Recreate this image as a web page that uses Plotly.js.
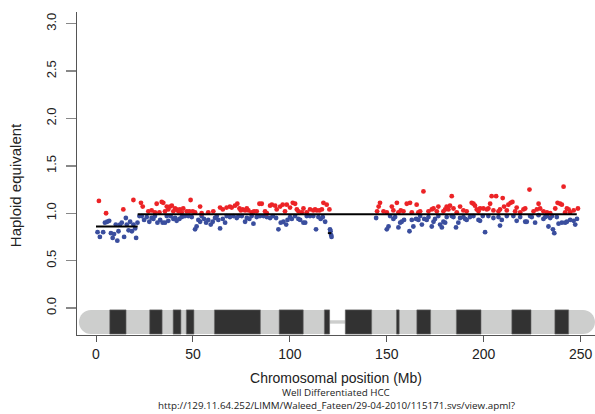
<!DOCTYPE html>
<html>
<head>
<meta charset="utf-8">
<script src="https://cdn.plot.ly/plotly-3.0.1.min.js"></script>
<style>html,body{margin:0;padding:0;background:#fff;}#chart{width:595px;height:414px;}</style>
</head>
<body>
<div id="chart"></div>
<script>
// Gained probes (red): position in Mb, haploid equivalent
var gainPos = [1.5,5.2,14.1,19.3,23.2,24.1,27,28.7,30.4,31.3,32.7,33.9,34.7,35.6,36.5,37.3,38.2,39.1,39.9,40.8,41.6,42.5,43.3,44.2,45,46.8,48.1,48.8,49.9,51.1,53.7,54.5,57.9,60.5,64,65.4,67.4,69.1,70,71.7,72.9,74,74.7,75.7,76.9,77.8,78.6,80.3,81.5,82.9,84.3,85.5,87.2,88.1,89.8,90.7,92.4,93.2,95,96.3,97.5,98.4,100.1,101.5,102.7,103.6,104.4,106.1,107,108.7,110.4,112.1,113,113.9,115.3,116.5,117.3,119,120.4,
145.0,145.8,146.5,148.3,150.0,152.6,153.4,155.2,156.0,157.2,158.6,160.3,162.0,162.9,165.4,166.3,167.2,168.9,171.5,173.2,174.1,175.8,176.6,179.2,180.1,180.9,181.8,182.6,183.5,184.4,186.1,187.8,189.5,191.2,193.8,194.7,195.5,196.4,197.3,198.1,199.8,201.6,202.4,203.3,204.1,205.0,206.4,207.6,208.4,209.8,210.5,211.9,212.7,213.9,214.8,216.2,217.0,218.8,220.5,221.4,223.6,225.7,227.4,228.3,229.1,230.8,232.6,234.3,236.9,238.1,239.4,240.3,241.2,242.0,242.9,243.8,244.6,246.4,248.6];
var gainVal = [1.13,1.00,1.04,1.14,1.11,1.07,1.02,1.03,1.01,1.10,1.01,1.12,1.11,1.02,1.07,1.04,1.07,1.08,1.02,1.05,1.04,1.02,1.04,1.01,1.05,1.02,1.02,1.14,1.02,1.01,1.07,1.00,1.01,1.02,1.06,1.04,1.06,1.07,1.06,1.08,1.10,1.05,1.03,1.04,1.03,1.05,1.03,1.01,1.02,1.02,1.10,1.10,1.02,1.00,1.08,1.09,1.08,1.04,1.07,1.09,1.02,1.09,1.06,1.11,1.10,1.04,1.02,1.01,1.05,1.01,1.04,1.03,1.04,1.03,1.03,1.04,1.11,1.09,1.04,
1.02,1.07,1.11,1.02,1.01,1.07,1.03,1.11,1.01,1.03,1.02,1.10,1.11,1.01,1.09,1.01,1.02,1.23,1.02,1.04,1.05,1.02,1.07,1.02,1.04,1.07,1.04,1.08,1.18,1.05,1.01,1.07,1.03,1.02,1.11,1.10,1.08,1.04,1.02,1.05,1.05,1.04,1.05,1.10,1.18,1.03,1.18,1.02,1.04,1.16,1.07,1.03,1.09,1.11,1.12,1.02,1.06,1.01,1.04,1.05,1.25,1.02,1.04,1.10,1.05,1.02,1.01,1.00,1.05,1.11,1.10,1.09,1.28,1.01,1.05,1.04,1.01,1.03,1.05];

// Lost probes (blue)
var lossPos = [0.8,2,3.7,4.6,5.8,6.8,7.7,8.6,9.3,10.2,11,11.6,12.4,13.3,14.5,15.4,15.9,16.8,17.6,18.5,19.3,20.2,20.7,21.4,
22.4,23.6,24.8,26.2,27.5,28.7,29.6,30.4,31.7,33.1,34.4,35.6,36.5,37.3,38.5,39.9,40.8,41.6,43.0,44.2,45.0,45.9,47.6,49.4,51.1,51.9,52.8,53.7,54.5,55.7,56.8,57.9,59.2,60.2,61.4,62.3,63.1,64.0,65.4,66.6,67.4,69.1,70.9,72.6,73.5,75.2,76.9,77.8,79.1,80.3,81.2,82.9,84.6,86.4,88.1,89.8,91.2,92.9,94.1,95.3,96.7,98.1,98.8,100.1,101.0,102.7,104.4,105.3,107.0,107.9,108.7,110.4,112.1,113.5,114.7,115.9,117.0,118.2,120.7,121.0,121.3,121.5,
144.5,150.0,150.9,151.7,153.4,154.3,156.0,156.9,157.7,158.9,161.7,162.9,163.7,165.1,166.3,167.2,168.1,169.3,170.6,171.5,173.2,174.1,174.9,176.6,177.5,178.4,179.2,180.1,180.9,183.5,184.4,185.7,186.9,187.8,189.5,190.4,191.2,192.9,194.7,197.3,198.1,199.5,200.7,202.4,205.0,207.6,208.4,209.3,211.9,215.3,217.0,218.8,221.4,222.2,223.9,224.8,226.5,228.3,230.8,231.7,232.6,233.4,234.3,235.2,235.7,236.4,237.7,238.6,240.3,242.0,242.9,244.6,246.4,247.2,248.1];
var lossVal = [0.80,0.75,0.80,0.90,0.91,0.92,0.79,0.74,0.78,0.88,0.71,0.81,0.88,0.90,0.75,0.95,0.88,0.82,0.91,0.81,0.88,0.84,0.74,0.90,
0.97,0.97,0.93,0.96,0.91,0.95,0.94,0.97,0.90,0.93,0.90,0.90,0.97,0.92,0.97,0.94,0.95,0.92,0.94,0.96,0.97,0.97,0.97,0.96,0.83,0.86,0.93,0.91,0.97,0.94,0.90,0.93,0.88,0.91,0.95,0.97,0.93,0.84,0.94,0.90,0.97,0.96,0.97,0.95,0.97,0.97,0.91,0.95,0.94,0.97,0.89,0.96,0.97,0.97,0.96,0.95,0.97,0.95,0.83,0.90,0.91,0.88,0.93,0.96,0.94,0.97,0.94,0.93,0.90,0.90,0.97,0.97,0.97,0.83,0.96,0.94,0.96,0.91,0.83,0.81,0.77,0.75,
0.95,0.83,0.86,0.97,0.94,0.96,0.85,0.90,0.91,0.93,0.81,0.93,0.86,0.94,0.93,0.97,0.88,0.94,0.93,0.96,0.86,0.91,0.94,0.97,0.88,0.85,0.91,0.90,0.96,0.97,0.96,0.85,0.90,0.95,0.96,0.94,0.93,0.96,0.97,0.93,0.92,0.97,0.80,0.97,0.95,0.96,0.87,0.93,0.97,0.97,0.92,0.96,0.91,0.91,0.97,0.96,0.90,0.98,0.94,0.96,0.97,0.86,0.95,0.97,0.83,0.79,0.96,0.89,0.90,0.90,0.91,0.93,0.92,0.88,0.94];

// Segmentation (black lines)
var segStart = [0, 21.5, 119.6];
var segEnd   = [21.5, 248, 121.4];
var segVal   = [0.86, 0.99, 0.79];

// Ideogram of the chromosome (Mb)
var chromStart = -8.8, chromEnd = 257.4;
var cenStart = 120.5, cenEnd = 128.6;
var bandStart = [7.1, 27.7, 39.8, 46.6, 61.1, 94.5, 117.8, 128.6, 155.0, 165.5, 185.9, 214.5, 236.7];
var bandEnd   = [15.5, 34.1, 43.8, 50.5, 84.8, 106.9, 120.5, 142.2, 156.4, 172.6, 198.6, 224.4, 243.8];

var xTicks = [0, 50, 100, 150, 200, 250];
var yTicks = [0.0, 0.5, 1.0, 1.5, 2.0, 2.5, 3.0];

var traces = [];
traces.push({x: lossPos, y: lossVal, type: 'scatter', mode: 'markers',
  marker: {color: '#3a4e9e', size: 4.8}, hoverinfo: 'x+y', showlegend: false});
traces.push({x: gainPos, y: gainVal, type: 'scatter', mode: 'markers',
  marker: {color: '#ec2326', size: 4.8}, hoverinfo: 'x+y', showlegend: false});
for (var i = 0; i < segStart.length; i++) {
  traces.push({x: [segStart[i], segEnd[i]], y: [segVal[i], segVal[i]], type: 'scatter', mode: 'lines',
    line: {color: '#000000', width: 2}, hoverinfo: 'skip', showlegend: false});
}

// ideogram shapes
var yt = -0.02, yb = -0.275, ym = (yt + yb) / 2, ry = (yt - yb) / 2;
var rx = 6.2, k = 0.5523;
function f(v){ return v.toFixed(4); }
var pArm = 'M ' + f(chromStart + rx) + ',' + f(yt) +
  ' C ' + f(chromStart + rx - k*rx) + ',' + f(yt) + ' ' + f(chromStart) + ',' + f(ym + k*ry) + ' ' + f(chromStart) + ',' + f(ym) +
  ' C ' + f(chromStart) + ',' + f(ym - k*ry) + ' ' + f(chromStart + rx - k*rx) + ',' + f(yb) + ' ' + f(chromStart + rx) + ',' + f(yb) +
  ' L ' + f(cenStart) + ',' + f(yb) + ' L ' + f(cenStart) + ',' + f(yt) + ' Z';
var qArm = 'M ' + f(cenEnd) + ',' + f(yt) + ' L ' + f(chromEnd - rx) + ',' + f(yt) +
  ' C ' + f(chromEnd - rx + k*rx) + ',' + f(yt) + ' ' + f(chromEnd) + ',' + f(ym + k*ry) + ' ' + f(chromEnd) + ',' + f(ym) +
  ' C ' + f(chromEnd) + ',' + f(ym - k*ry) + ' ' + f(chromEnd - rx + k*rx) + ',' + f(yb) + ' ' + f(chromEnd - rx) + ',' + f(yb) +
  ' L ' + f(cenEnd) + ',' + f(yb) + ' Z';
var shapes = [
  {type: 'path', xref: 'x', yref: 'y', path: pArm, fillcolor: '#cdcecd', line: {width: 0}, layer: 'below'},
  {type: 'path', xref: 'x', yref: 'y', path: qArm, fillcolor: '#cdcecd', line: {width: 0}, layer: 'below'},
  {type: 'rect', xref: 'x', yref: 'y', x0: cenStart, x1: cenEnd, y0: ym - 0.018, y1: ym + 0.018,
    fillcolor: '#cdcecd', line: {width: 0}, layer: 'below'}
];
for (var j = 0; j < bandStart.length; j++) {
  shapes.push({type: 'rect', xref: 'x', yref: 'y', x0: bandStart[j], x1: bandEnd[j], y0: yb, y1: yt,
    fillcolor: '#323232', line: {color: '#6a6a6a', width: 0.6}, layer: 'below'});
}

var sans = '"Liberation Sans", Arial, sans-serif';
var narrow = '"Liberation Sans Narrow", "Liberation Sans", Arial, sans-serif';
var layout = {
  width: 595, height: 414,
  margin: {l: 77, r: 0, t: 12, b: 79},
  paper_bgcolor: '#ffffff', plot_bgcolor: '#ffffff',
  font: {family: sans, color: '#222222', size: 12},
  showlegend: false,
  xaxis: {
    range: [-9.8, 257.4], showgrid: false, zeroline: false,
    showline: true, linecolor: '#555555', linewidth: 1.3,
    ticks: 'outside', ticklen: 6, tickcolor: '#555555', tickwidth: 1,
    tickvals: xTicks, ticktext: xTicks.map(String),
    tickfont: {size: 14, color: '#222222', family: sans},
    title: {text: 'Chromosomal position (Mb)', font: {size: 14, color: '#222222', family: sans}, standoff: 12}
  },
  yaxis: {
    range: [-0.285, 3.124], showgrid: false, zeroline: false,
    showline: true, linecolor: '#555555', linewidth: 1.3,
    ticks: 'outside', ticklen: 10, tickcolor: '#888888', tickwidth: 1.3,
    tickvals: yTicks, ticktext: yTicks.map(function(v){ return v.toFixed(1); }),
    tickangle: -90, ticklabelstandoff: 5,
    tickfont: {size: 13, color: '#222222', family: narrow}
  },
  shapes: shapes,
  annotations: [
    {text: 'Haploid equivalent', xref: 'paper', yref: 'paper', x: -0.119, y: 0.465, xanchor: 'center', yanchor: 'middle',
      textangle: -90, showarrow: false, font: {size: 15, color: '#222222', family: narrow}},
    {text: 'Well Differentiated HCC', xref: 'paper', yref: 'paper', x: 0.5, y: -0.177, yanchor: 'middle',
      showarrow: false, font: {size: 9.8, color: '#222222', family: '"Open Sans", "Liberation Sans", sans-serif'}},
    {text: 'http://129.11.64.252/LIMM/Waleed_Fateen/29-04-2010/115171.svs/view.apml?', xref: 'paper', yref: 'paper',
      x: 0.5, y: -0.217, yanchor: 'middle', showarrow: false,
      font: {size: 9.8, color: '#222222', family: '"Open Sans", "Liberation Sans", sans-serif'}}
  ]
};

Plotly.newPlot('chart', traces, layout, {displayModeBar: false, staticPlot: true});
</script>
</body>
</html>
